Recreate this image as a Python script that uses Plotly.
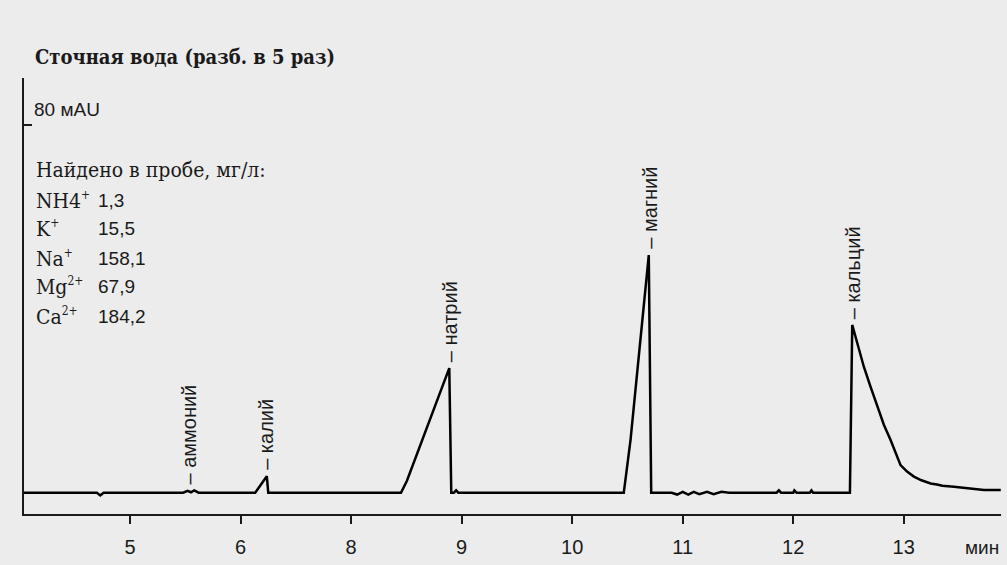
import plotly.graph_objects as go

# позиции по оси (равномерная шкала) и подписи делений, как на исходнике
tick_vals = [5, 6, 7, 8, 9, 10, 11, 12]
tick_text = ["5", "6", "8", "9", "10", "11", "12", "13"]

# хроматограмма: положение по оси / сигнал, мAU
t_pos = [4.04, 4.70, 4.73, 4.76,
         5.48, 5.52, 5.55, 5.58, 5.62,
         6.132, 6.237, 6.250,
         7.451, 7.505, 7.888, 7.906, 7.93, 7.95, 7.97,
         9.467, 9.528, 9.588, 9.645, 9.693, 9.715,
         9.90, 9.95, 10.00, 10.05, 10.10, 10.15, 10.22, 10.28, 10.35, 10.42,
         10.85, 10.87, 10.89, 11.00, 11.01, 11.03, 11.15, 11.165, 11.18,
         11.513, 11.534, 11.58, 11.639, 11.70, 11.760, 11.82, 11.880, 11.93,
         11.971, 12.03, 12.092, 12.16, 12.243, 12.30, 12.35, 12.454, 12.55,
         12.60, 12.726, 12.878]
signal = [0, 0, -0.6, 0,
          0, 0.4, 0.1, 0.5, 0,
          0, 3.6, 0,
          0, 2.6, 27.1, 0, 0, 0.5, 0,
          0, 11.5, 26.0, 40.4, 51.7, 0,
          0, -0.4, 0.2, -0.4, 0.2, -0.3, 0.2, -0.3, 0.2, 0,
          0, 0.5, 0, 0, 0.5, 0, 0, 0.5, 0,
          0, 36.5, 32.5, 27.4, 23.0, 18.7, 14.8, 11.5, 8.4,
          6.0, 4.6, 3.5, 2.7, 2.0, 1.8, 1.5, 1.3, 1.0,
          0.9, 0.6, 0.6]

# подписи пиков
peak_names = ["аммоний", "калий", "натрий", "магний", "кальций"]
peak_pos = [5.534, 6.222, 7.891, 9.702, 11.54]
peak_top = [0.5, 3.6, 27.1, 51.7, 36.5]

# найдено в пробе, мг/л
ions = ["NH4", "K", "Na", "Mg", "Ca"]
charges = ["+", "+", "+", "2+", "2+"]
found = ["1,3", "15,5", "158,1", "67,9", "184,2"]

sans = "Liberation Sans, Arial, sans-serif"
serif = "DejaVu Serif Condensed, DejaVu Serif, serif"
ink = "#1a1a1a"

fig = go.Figure(
    go.Scatter(x=t_pos, y=signal, mode="lines",
               line=dict(color="black", width=2.5), hoverinfo="skip")
)

for name, px_, top in zip(peak_names, peak_pos, peak_top):
    fig.add_annotation(x=px_, y=top, text="– " + name, textangle=-90,
                       showarrow=False, xanchor="center", yanchor="bottom",
                       yshift=4, font=dict(family=sans, size=20, color=ink))

fig.add_annotation(xref="paper", yref="paper", x=0, xshift=8, y=0.927,
                   text="80 мAU", showarrow=False, xanchor="left", yanchor="middle",
                   font=dict(family=sans, size=19, color=ink))

fig.add_annotation(xref="paper", yref="paper", x=0, xshift=10, y=0.789,
                   text="Найдено в пробе, мг/л:", showarrow=False,
                   xanchor="left", yanchor="middle",
                   font=dict(family=serif, size=21, color=ink))
row_y = [0.720, 0.654, 0.587, 0.521, 0.454]
for ion, ch, val, yy in zip(ions, charges, found, row_y):
    fig.add_annotation(xref="paper", yref="paper", x=0, xshift=10, y=yy,
                       text=f"{ion}<sup><span style='font-size:12px'>{ch}</span></sup>",
                       showarrow=False, xanchor="left", yanchor="middle",
                       font=dict(family=serif, size=21, color=ink))
    fig.add_annotation(xref="paper", yref="paper", x=0, xshift=72, y=yy,
                       text=val, showarrow=False, xanchor="left", yanchor="middle",
                       font=dict(family=sans, size=19, color=ink))

fig.add_annotation(xref="paper", yref="paper", x=0.9806, y=-0.0757,
                   text="мин", showarrow=False, xanchor="center", yanchor="middle",
                   font=dict(family=sans, size=19, color=ink))

fig.update_layout(
    width=1007, height=565,
    margin=dict(l=24, r=6, t=78, b=51),
    paper_bgcolor="#ececec", plot_bgcolor="#ececec",
    showlegend=False,
    title=dict(text="<b>Сточная вода (разб. в 5 раз)</b>",
               x=35 / 1007, xanchor="left", y=1 - 57 / 565, yanchor="middle",
               font=dict(family=serif, size=20, color=ink)),
    xaxis=dict(range=[4.04, 12.88], tickvals=tick_vals, ticktext=tick_text,
               ticks="outside", ticklen=8, tickwidth=1.5, tickcolor=ink,
               showline=True, linecolor=ink, linewidth=1.5,
               showgrid=False, zeroline=False, ticklabelstandoff=6,
               tickfont=dict(family=sans, size=20, color=ink)),
    yaxis=dict(range=[-4.63, 90.2], tickvals=[80], showticklabels=False,
               ticks="inside", ticklen=8, tickwidth=1.5, tickcolor=ink,
               showline=True, linecolor=ink, linewidth=1.5,
               showgrid=False, zeroline=False),
)

fig.write_html("out.html", config={"displayModeBar": False},
               post_script="document.body.style.margin='0';")
